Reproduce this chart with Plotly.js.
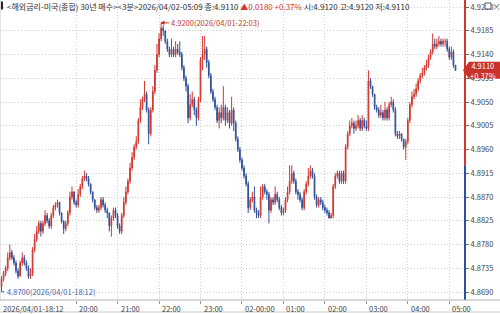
<!DOCTYPE html>
<html><head><meta charset="utf-8">
<script src="https://cdn.plot.ly/plotly-3.0.1.min.js"></script>
<style>html,body{margin:0;padding:0;background:#fff;}#chart{width:500px;height:314px;}</style>
</head><body><div id="chart"></div>
<script>
// ---- data (3-minute candles, 2026/04/01 18:12 .. 2026/04/02 05:09) ----
const startTime = Date.UTC(2026, 3, 1, 18, 12);
const stepMinutes = 3;
const prevClose = 4.8930;

const opens = [4.8700,4.8715,4.8725,4.8735,4.8755,4.8765,4.8755,4.8745,4.8730,4.8720,
4.8745,4.8755,4.8745,4.8735,4.8720,4.8725,4.8770,4.8790,4.8805,4.8820,
4.8805,4.8820,4.8835,4.8825,4.8815,4.8835,4.8850,4.8855,4.8860,4.8840,
4.8825,4.8810,4.8820,4.8840,4.8870,4.8880,4.8860,4.8855,4.8875,4.8890,
4.8905,4.8910,4.8905,4.8895,4.8880,4.8865,4.8850,4.8845,4.8850,4.8865,
4.8855,4.8845,4.8840,4.8815,4.8830,4.8845,4.8835,4.8815,4.8805,4.8835,
4.8860,4.8880,4.8900,4.8925,4.8945,4.8965,4.8975,4.9015,4.9040,4.9055,
4.9065,4.9035,4.8990,4.9035,4.9070,4.9110,4.9140,4.9170,4.9190,4.9185,
4.9165,4.9150,4.9140,4.9150,4.9140,4.9150,4.9145,4.9140,4.9115,4.9095,
4.9080,4.9020,4.9045,4.9055,4.9035,4.9020,4.9055,4.9130,4.9140,4.9150,
4.9125,4.9100,4.9070,4.9055,4.9040,4.9015,4.9030,4.9020,4.9040,4.9015,
4.9030,4.9010,4.9035,4.9010,4.8980,4.8960,4.8940,4.8925,4.8910,4.8895,
4.8850,4.8865,4.8870,4.8845,4.8840,4.8835,4.8870,4.8890,4.8880,4.8875,
4.8845,4.8865,4.8860,4.8875,4.8865,4.8850,4.8840,4.8845,4.8865,4.8880,
4.8900,4.8915,4.8900,4.8880,4.8875,4.8865,4.8850,4.8880,4.8895,4.8910,
4.8920,4.8910,4.8870,4.8855,4.8865,4.8860,4.8850,4.8845,4.8840,4.8830,
4.8835,4.8890,4.8910,4.8915,4.8900,4.8915,4.8900,4.8965,4.8990,4.9005,
4.9010,4.9000,4.9005,4.9015,4.9000,4.9015,4.9005,4.9000,4.9090,4.9080,
4.9065,4.9040,4.9035,4.9025,4.9030,4.9020,4.9035,4.9020,4.9045,4.9050,
4.9035,4.8990,4.8985,4.8990,4.8980,4.8965,4.8975,4.9015,4.9045,4.9060,
4.9065,4.9075,4.9090,4.9100,4.9105,4.9115,4.9120,4.9135,4.9145,4.9160,
4.9155,4.9160,4.9165,4.9160,4.9165,4.9165,4.9150,4.9135,4.9145,4.9120];

const highs = [4.8720,4.8730,4.8740,4.8765,4.8780,4.8770,4.8760,4.8750,4.8735,4.8750,
4.8765,4.8760,4.8750,4.8740,4.8735,4.8775,4.8800,4.8815,4.8825,4.8825,
4.8825,4.8845,4.8840,4.8830,4.8840,4.8855,4.8860,4.8865,4.8860,4.8840,
4.8825,4.8825,4.8845,4.8880,4.8890,4.8880,4.8865,4.8885,4.8895,4.8910,
4.8920,4.8915,4.8910,4.8895,4.8880,4.8865,4.8855,4.8855,4.8870,4.8870,
4.8860,4.8850,4.8840,4.8835,4.8850,4.8850,4.8840,4.8820,4.8840,4.8870,
4.8890,4.8905,4.8935,4.8955,4.8970,4.8985,4.9020,4.9055,4.9060,4.9090,
4.9070,4.9040,4.9040,4.9080,4.9120,4.9160,4.9180,4.9200,4.9195,4.9185,
4.9170,4.9155,4.9170,4.9155,4.9165,4.9160,4.9165,4.9145,4.9120,4.9100,
4.9085,4.9065,4.9070,4.9060,4.9040,4.9060,4.9135,4.9175,4.9175,4.9155,
4.9130,4.9105,4.9075,4.9060,4.9045,4.9040,4.9045,4.9080,4.9045,4.9040,
4.9035,4.9060,4.9040,4.9015,4.8985,4.8965,4.8945,4.8930,4.8915,4.8900,
4.8870,4.8880,4.8890,4.8850,4.8845,4.8890,4.8895,4.8895,4.8885,4.8880,
4.8870,4.8870,4.8890,4.8880,4.8870,4.8855,4.8850,4.8870,4.8890,4.8930,
4.8930,4.8920,4.8905,4.8885,4.8880,4.8870,4.8885,4.8900,4.8925,4.8930,
4.8925,4.8915,4.8875,4.8870,4.8870,4.8865,4.8855,4.8850,4.8845,4.8840,
4.8895,4.8915,4.8920,4.8920,4.8920,4.8920,4.8970,4.8995,4.9015,4.9020,
4.9015,4.9015,4.9025,4.9020,4.9025,4.9020,4.9015,4.9110,4.9095,4.9080,
4.9065,4.9045,4.9040,4.9045,4.9035,4.9050,4.9040,4.9050,4.9060,4.9055,
4.9040,4.8995,4.8995,4.8990,4.8980,4.8980,4.9020,4.9050,4.9070,4.9075,
4.9085,4.9095,4.9105,4.9115,4.9120,4.9130,4.9140,4.9150,4.9180,4.9170,
4.9170,4.9175,4.9170,4.9170,4.9170,4.9170,4.9155,4.9155,4.9150,4.9120];

const lows = [4.8700,4.8710,4.8720,4.8730,4.8750,4.8750,4.8740,4.8725,4.8715,4.8720,
4.8740,4.8740,4.8730,4.8715,4.8715,4.8720,4.8765,4.8785,4.8800,4.8795,
4.8800,4.8815,4.8820,4.8810,4.8810,4.8830,4.8845,4.8850,4.8835,4.8820,
4.8800,4.8805,4.8815,4.8835,4.8865,4.8855,4.8850,4.8850,4.8870,4.8885,
4.8900,4.8900,4.8890,4.8875,4.8860,4.8845,4.8840,4.8840,4.8845,4.8850,
4.8840,4.8830,4.8805,4.8795,4.8825,4.8830,4.8810,4.8800,4.8800,4.8830,
4.8855,4.8875,4.8895,4.8920,4.8940,4.8960,4.8970,4.9010,4.9035,4.9050,
4.9030,4.8970,4.8985,4.9030,4.9065,4.9105,4.9135,4.9165,4.9175,4.9160,
4.9145,4.9135,4.9135,4.9135,4.9135,4.9140,4.9135,4.9110,4.9090,4.9070,
4.9010,4.9015,4.9040,4.9025,4.9005,4.9015,4.9050,4.9110,4.9130,4.9115,
4.9095,4.9065,4.9050,4.9035,4.9010,4.9000,4.9010,4.9015,4.9005,4.9010,
4.9000,4.9005,4.8995,4.8975,4.8955,4.8935,4.8920,4.8905,4.8890,4.8840,
4.8845,4.8860,4.8840,4.8830,4.8830,4.8830,4.8865,4.8875,4.8865,4.8820,
4.8840,4.8855,4.8855,4.8860,4.8845,4.8835,4.8835,4.8840,4.8860,4.8875,
4.8895,4.8895,4.8875,4.8865,4.8860,4.8845,4.8845,4.8875,4.8890,4.8905,
4.8905,4.8865,4.8850,4.8850,4.8855,4.8845,4.8840,4.8835,4.8830,4.8830,
4.8830,4.8885,4.8905,4.8895,4.8895,4.8895,4.8895,4.8960,4.8985,4.9000,
4.8990,4.8995,4.9000,4.8995,4.8995,4.9000,4.8995,4.8995,4.9075,4.9060,
4.9035,4.9030,4.9020,4.9020,4.9015,4.9015,4.9015,4.9015,4.9040,4.9030,
4.8985,4.8980,4.8980,4.8975,4.8960,4.8940,4.8970,4.9010,4.9040,4.9055,
4.9060,4.9070,4.9085,4.9095,4.9100,4.9110,4.9115,4.9130,4.9140,4.9150,
4.9150,4.9155,4.9155,4.9155,4.9155,4.9145,4.9130,4.9130,4.9115,4.9110];

const closes = [4.8715,4.8725,4.8735,4.8755,4.8765,4.8755,4.8745,4.8730,4.8720,4.8745,
4.8755,4.8745,4.8735,4.8720,4.8725,4.8770,4.8790,4.8805,4.8820,4.8805,
4.8820,4.8835,4.8825,4.8815,4.8835,4.8850,4.8855,4.8860,4.8840,4.8825,
4.8810,4.8820,4.8840,4.8870,4.8880,4.8860,4.8855,4.8875,4.8890,4.8905,
4.8910,4.8905,4.8895,4.8880,4.8865,4.8850,4.8845,4.8850,4.8865,4.8855,
4.8845,4.8840,4.8815,4.8830,4.8845,4.8835,4.8815,4.8805,4.8835,4.8860,
4.8880,4.8900,4.8925,4.8945,4.8965,4.8975,4.9015,4.9040,4.9055,4.9065,
4.9035,4.8990,4.9035,4.9070,4.9110,4.9140,4.9170,4.9190,4.9185,4.9165,
4.9150,4.9140,4.9150,4.9140,4.9150,4.9145,4.9140,4.9115,4.9095,4.9080,
4.9020,4.9045,4.9055,4.9035,4.9020,4.9055,4.9130,4.9140,4.9150,4.9125,
4.9100,4.9070,4.9055,4.9040,4.9015,4.9030,4.9020,4.9040,4.9015,4.9030,
4.9010,4.9035,4.9010,4.8980,4.8960,4.8940,4.8925,4.8910,4.8895,4.8850,
4.8865,4.8870,4.8845,4.8840,4.8835,4.8870,4.8890,4.8880,4.8875,4.8845,
4.8865,4.8860,4.8875,4.8865,4.8850,4.8840,4.8845,4.8865,4.8880,4.8900,
4.8915,4.8900,4.8880,4.8875,4.8865,4.8850,4.8880,4.8895,4.8910,4.8920,
4.8910,4.8870,4.8855,4.8865,4.8860,4.8850,4.8845,4.8840,4.8830,4.8835,
4.8890,4.8910,4.8915,4.8900,4.8915,4.8900,4.8965,4.8990,4.9005,4.9010,
4.9000,4.9005,4.9015,4.9000,4.9015,4.9005,4.9000,4.9090,4.9080,4.9065,
4.9040,4.9035,4.9025,4.9030,4.9020,4.9035,4.9020,4.9045,4.9050,4.9035,
4.8990,4.8985,4.8990,4.8980,4.8965,4.8975,4.9015,4.9045,4.9060,4.9065,
4.9075,4.9090,4.9100,4.9105,4.9115,4.9120,4.9135,4.9145,4.9160,4.9155,
4.9160,4.9165,4.9160,4.9165,4.9165,4.9150,4.9135,4.9145,4.9120,4.9110];

const xTickTimes = ['2026-04-01 20:00','2026-04-01 21:00','2026-04-01 22:00','2026-04-01 23:00',
  '2026-04-02 00:00','2026-04-02 01:00','2026-04-02 02:00','2026-04-02 03:00','2026-04-02 04:00','2026-04-02 05:00'];
const xTickLabels = ['20:00','21:00','22:00','23:00','02-00:00','01:00','02:00','03:00','04:00','05:00'];
const firstLabel = '2026/04/01-18:12';
const titleName = '<해외금리-미국(종합) 30년 매수><3분>';

// ---- helpers ----
function isoOf(ms){ return new Date(ms).toISOString().slice(0,19).replace('T',' '); }
function korOf(ms){ const s = new Date(ms).toISOString(); return s.slice(0,4)+'/'+s.slice(5,7)+'/'+s.slice(8,10)+'-'+s.slice(11,16); }
const times = closes.map((_, i) => isoOf(startTime + i*stepMinutes*60000));
const timeMs = closes.map((_, i) => startTime + i*stepMinutes*60000);

const RED = '#d2372e', BLUE = '#2f519d';
const FONT = '"Noto Sans CJK KR", "Noto Sans", sans-serif';
const yMin = 4.86749, yMax = 4.92433;

const n = closes.length;
const last = closes[n-1];
const chg = last - prevClose;
const pct = chg / prevClose * 100;
let iMax = 0, iMin = 0;
highs.forEach((h,i)=>{ if(h>highs[iMax]) iMax=i; });
lows.forEach((l,i)=>{ if(l<lows[iMin]) iMin=i; });

const title = '<span style="color:#333">' + titleName + korOf(timeMs[n-1]) + ' 종:' + last.toFixed(4) + ' </span>' +
  '<span style="color:' + RED + '">▲' + chg.toFixed(4) + ' +' + pct.toFixed(2) + '%</span>' +
  '<span style="color:#333"> 시:' + opens[n-1].toFixed(4) + ' 고:' + highs[n-1].toFixed(4) + ' 저:' + lows[n-1].toFixed(4) + '</span>';

const trace = {
  type: 'candlestick', x: times, open: opens, high: highs, low: lows, close: closes,
  increasing: {line: {color: RED, width: 1}, fillcolor: RED},
  decreasing: {line: {color: BLUE, width: 1}, fillcolor: BLUE},
  whiskerwidth: 0, hoverinfo: 'skip'
};

const annotations = [
  {xref:'paper', yref:'paper', x:0, y:1, xanchor:'left', yanchor:'top', xshift:5, yshift:1,
   text: title, showarrow:false, font:{size:8, color:'#333', family:FONT}},
  {xref:'x', yref:'y', x: times[iMax], y: highs[iMax], xanchor:'left', yanchor:'middle', xshift:8,
   text: highs[iMax].toFixed(4) + '(' + korOf(timeMs[iMax]) + ')', showarrow:false, font:{size:7.5, color:'#c0392b', family:FONT}},
  {xref:'x', yref:'y', x: times[iMin], y: lows[iMin], xanchor:'left', yanchor:'middle', xshift:3, yshift:-5,
   text: lows[iMin].toFixed(4) + '(' + korOf(timeMs[iMin]) + ')', showarrow:false, font:{size:7.5, color:'#4a5f9e', family:FONT}},
  {xref:'paper', yref:'y', x:1, y:last, xanchor:'center', yanchor:'middle', xshift:18,
   text: last.toFixed(4) + '<br>+' + pct.toFixed(2) + '%', showarrow:false, font:{size:7.5, color:'#fff', family:FONT}},
  {xref:'paper', yref:'paper', x:1, y:1, xanchor:'center', yanchor:'middle', xshift:31, yshift:-6,
   text: '×', showarrow:false, font:{size:9, color:'#555', family:FONT}},
  {xref:'x', yref:'paper', x: times[0], y:0, xanchor:'left', yanchor:'top', xshift:-1, yshift:-1,
   text: firstLabel, showarrow:false, font:{size:7.5, color:'#444', family:FONT}}
];
xTickTimes.forEach((t, k) => annotations.push({
  xref:'x', yref:'paper', x:t, y:0, xanchor:'left', yanchor:'top', xshift:1, yshift:-1,
  text: xTickLabels[k], showarrow:false, font:{size:7.5, color:'#444', family:FONT}
}));

const shapes = [
  {type:'line', xref:'paper', yref:'y', x0:1, x1:1, y0:prevClose, y1:yMax, line:{color:RED, width:2}},
  {type:'line', xref:'paper', yref:'y', x0:1, x1:1, y0:yMin, y1:prevClose, line:{color:BLUE, width:2}},
  {type:'line', xref:'paper', yref:'paper', x0:0, x1:0, y0:0, y1:1, line:{color:'#c8c8c8', width:1}},
  {type:'line', xref:'paper', yref:'paper', x0:0, x1:500/465, y0:0, y1:0, line:{color:'#b0b0b0', width:1}},
  {type:'line', xref:'paper', yref:'paper', ysizemode:'pixel', yanchor:0, x0:0, x1:500/465, y0:-12, y1:-12, line:{color:'#c8c8c8', width:1}},
  {type:'path', layer:'above', xref:'paper', xsizemode:'pixel', xanchor:1, yref:'y', ysizemode:'pixel', yanchor:last,
   path:'M -2 0 L 4 -8.5 L 35 -8.5 L 35 8.5 L 4 8.5 Z', fillcolor:'#c8322b', line:{width:0}},
  {type:'path', xref:'x', xsizemode:'pixel', xanchor:times[iMax], yref:'y', ysizemode:'pixel', yanchor:highs[iMax],
   path:'M 0 0 L 8 0 M 0 0 L 3 1.5 L 3 -1.5 Z', fillcolor:'#c0392b', line:{color:'#c0392b', width:1}},
  {type:'path', xref:'x', xsizemode:'pixel', xanchor:times[iMin], yref:'y', ysizemode:'pixel', yanchor:lows[iMin],
   path:'M 0 0 L 0 -5 L 3 -5', line:{color:'#4a5f9e', width:1}},
  {type:'rect', xref:'paper', xsizemode:'pixel', xanchor:0, yref:'paper', ysizemode:'pixel', yanchor:1,
   x0:1, x1:3, y0:-1.5, y1:-9.5, fillcolor:'#222', line:{width:0}},
  {type:'rect', layer:'above', xref:'paper', xsizemode:'pixel', xanchor:1, yref:'paper', ysizemode:'pixel', yanchor:1,
   x0:20, x1:26, y0:-3, y1:-9, fillcolor:'#fff', line:{color:'#555', width:1}}
];

const layout = {
  width: 500, height: 314,
  margin: {l:0, r:35, t:0, b:14, pad:0},
  paper_bgcolor: '#fff', plot_bgcolor: '#fff', showlegend: false,
  font: {family: FONT, size: 8, color: '#444'},
  boxgap: 0.5,
  xaxis: {type:'date', range:['2026-04-01 18:09:50','2026-04-02 05:22:45'], rangeslider:{visible:false},
    tickmode:'array', tickvals:xTickTimes, showticklabels:false,
    showgrid:true, gridcolor:'#cfcfcf', griddash:'1px,2px', gridwidth:1,
    ticks:'outside', ticklen:3, tickcolor:'#999', showline:false, zeroline:false, fixedrange:true},
  yaxis: {side:'right', range:[yMin, yMax], tickmode:'linear', tick0:4.8690, dtick:0.0045, tickformat:'.4f',
    showgrid:true, gridcolor:'#cfcfcf', griddash:'1px,2px', gridwidth:1,
    ticks:'outside', ticklen:3, tickcolor:'#666', tickfont:{size:7.5, color:'#444', family:FONT},
    showline:false, zeroline:false, fixedrange:true},
  shapes: shapes, annotations: annotations
};

Plotly.newPlot('chart', [trace], layout, {staticPlot:true, displayModeBar:false});
</script></body></html>
